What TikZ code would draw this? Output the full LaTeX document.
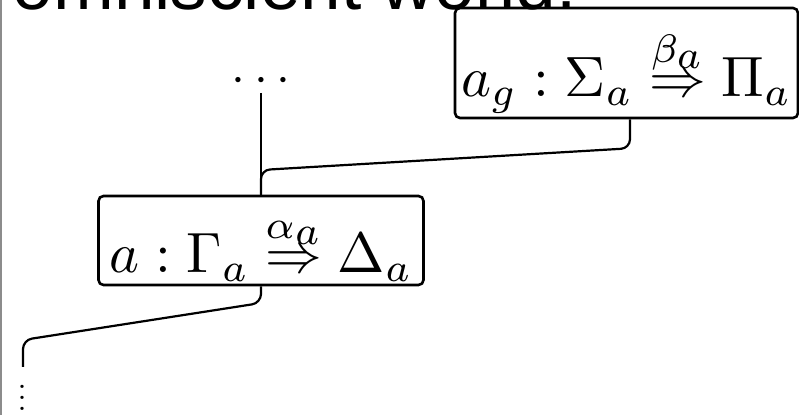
\documentclass[tikz,border=0pt]{standalone}
\usepackage{fontspec}
\newfontfamily\headfont{Liberation Sans}
\newcommand\stk[2]{\mathrel{\ooalign{$#2$\cr\hidewidth\raisebox{0.6em}{$\scriptstyle#1$}\hidewidth\cr}}}
\newcommand\magn[1]{\scalebox{2.84}{#1}}
\tikzset{
  box/.style={draw, line width=1.3pt, rounded corners=2.5pt, inner sep=0pt},
  conn/.style={line width=1.1pt, rounded corners=4.5pt},
}
\begin{document}
\begin{tikzpicture}[x=0.5pt,y=-0.5pt]
\useasboundingbox (0,0) rectangle (799,415);
\node[font=\headfont\fontsize{36.5pt}{40pt}\selectfont, anchor=base west, inner sep=0pt] (title) at (12.4,10) {omniscient world.};
\node[box, minimum width=162.5pt, text height=38.5pt, text depth=6pt] (a) at (261,240.5)
  {\magn{$a : \Gamma_a \stk{\alpha_{\scriptstyle a}}{\Rightarrow} \Delta_a$}};
\node[box, minimum width=171.5pt, text height=44.5pt, text depth=10.5pt] (ag) at (626.5,63)
  {\magn{$a_g : \Sigma_a \stk{\beta_{\scriptstyle a}}{\Rightarrow} \Pi_a$}};
\node[font=\fontsize{30pt}{36pt}\selectfont, inner sep=0pt, anchor=base] (cd) at (261,93) {$\cdots$};
\node[font=\fontsize{20pt}{24pt}\selectfont, inner sep=0pt, anchor=north] (vd) at (23,384.6)
  {\vbox{\baselineskip=5.6pt\lineskiplimit=0pt\hbox{.}\hbox{.}\hbox{.}}};
\coordinate (vend) at (23,367);
\draw[conn] (cd.base) -- (a.north);
\draw[conn] ([xshift=1.75pt]ag.south) -- ++(0,29) -- (261,170) -- (a.north);
\draw[conn] (a.south) -- (261,303) -- (23,340) -- (vend);
\draw[black!45, line width=0.75pt] (1,0) -- (1,415);
\end{tikzpicture}
\end{document}
